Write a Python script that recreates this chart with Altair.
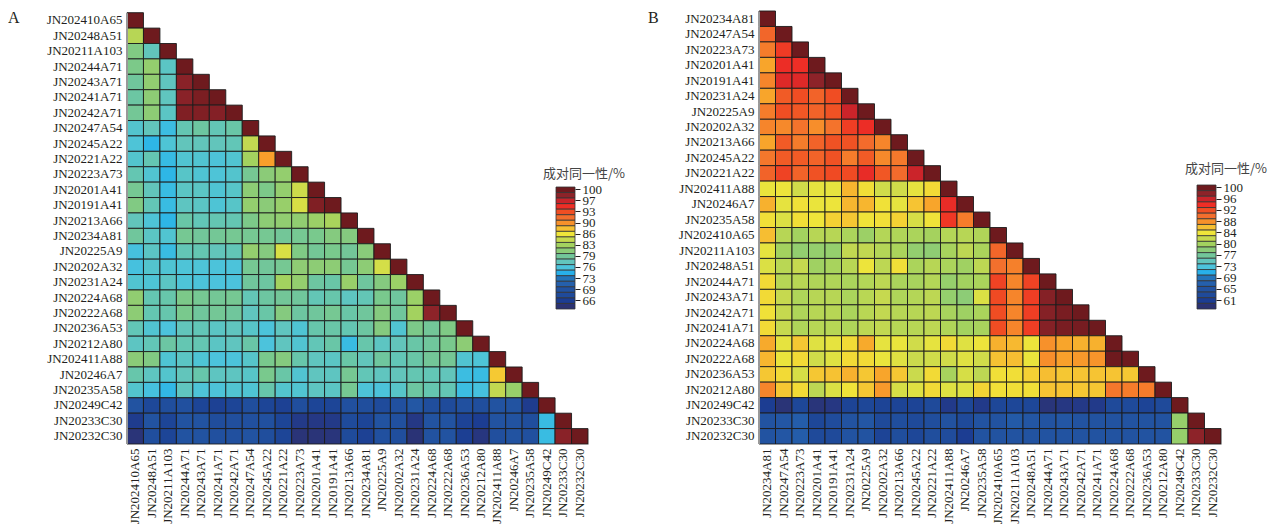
import altair as alt
import pandas as pd

rows_a = ["JN202410A65","JN20248A51","JN20211A103","JN20244A71","JN20243A71","JN20241A71","JN20242A71","JN20247A54","JN20245A22","JN20221A22","JN20223A73","JN20201A41","JN20191A41","JN20213A66","JN20234A81","JN20225A9","JN20202A32","JN20231A24","JN20224A68","JN20222A68","JN20236A53","JN20212A80","JN202411A88","JN20246A7","JN20235A58","JN20249C42","JN20233C30","JN20232C30"]
rows_b = ["JN20234A81","JN20247A54","JN20223A73","JN20201A41","JN20191A41","JN20231A24","JN20225A9","JN20202A32","JN20213A66","JN20245A22","JN20221A22","JN202411A88","JN20246A7","JN20235A58","JN202410A65","JN20211A103","JN20248A51","JN20244A71","JN20243A71","JN20242A71","JN20241A71","JN20224A68","JN20222A68","JN20236A53","JN20212A80","JN20249C42","JN20233C30","JN20232C30"]

mat_a = [
[100],
[84,100],
[80.8,78,100],
[80.5,82,77.5,100],
[79.5,81.8,77.8,98.5,100],
[79.2,81.5,77.8,98.5,99.3,100],
[79.8,81.5,77.5,99,99,98.8,100],
[77,78,75.6,78.5,79.3,78.3,79,100],
[76.5,75,76.6,78,78,78,78.2,84.5,100],
[77,78.5,75.4,76.8,76.8,76.4,76.8,83,89.3,100],
[78.5,76.8,75,77.3,76.7,76.5,77,80,81.3,82,100],
[80,78,75.5,77.5,77.5,76.7,77.3,81.5,80.5,82,85,100],
[80.8,78.3,75.5,77.7,77.5,76.6,77.3,82,81.3,82.3,85.5,99,100],
[78,76.5,75,79,78.2,78.5,78.5,80.5,81.5,81.8,81.8,82.5,83.3,100],
[79.5,77.5,76.8,80,79.6,79.8,80,80,80,79.7,80,80.3,81,81,100],
[76,77.5,75.5,78.3,78.5,78,78.2,82,81,85.5,80.7,79.8,80.3,79.7,81.2,100],
[76,77,76.7,76.5,76.5,76.3,76.3,80,79.6,80,81.6,81.5,81.5,80,81.5,85.3,100],
[76.8,76.6,77.5,76.5,76.3,76.2,76.2,79.5,79.3,83,82,79.3,79,82.3,79.4,81,82.5,100],
[81.8,78.5,78.8,80.5,80,79.8,80,78.3,79.3,79.7,79.5,78.3,78.8,77.7,78.3,80.3,79.4,82.5,100],
[81.5,78.5,78.7,80.3,79.5,79.8,79.5,77.8,79,81,79.3,79.5,80,79,79.5,81,79.5,83,98.3,100],
[78.2,76.8,76.2,78,78.2,77.5,77.8,77.3,76.3,77.8,76.7,78.8,79,78.5,79.3,81,76.8,80.5,79.7,80.7,100],
[77.6,78.2,79.2,78.5,78.5,77.5,77.8,79,76.2,77.8,76.8,78.2,79,75.5,78.8,77.6,78,79,79.5,80.3,81.5,100],
[81.3,80.8,76.7,77.5,76.6,76.2,76.3,77.2,80.3,81,78.8,77.8,77.5,79,78,79.4,78.2,79,79.7,79.9,76.8,76.5,100],
[78.8,77.7,77,78,78.8,77.7,77.7,77.3,80.3,79,76.8,77.8,77.7,80,78.2,77.8,78,78.5,78.3,78,75.6,75.5,87.7,100],
[77,76,75.2,77.8,76.5,76.4,76.8,76.7,78.8,77,76.8,77.7,77.5,80,76.4,76.3,77.3,79.3,78.6,78.4,75.6,76,84.5,82.3,100],
[69.5,67.5,68.5,69,67,66.5,67,68.5,67,66.5,68.5,67,67,69,68.5,68,69,70,68.5,68,69,68.5,69.5,69.5,65.8,100],
[65.8,69.5,67,69.5,69.5,68.3,68.8,69,69,67,65.5,65.3,65.5,68,67,69.5,69,65.3,69.5,69.5,66.8,66,69.5,69.5,68.5,75.5,100],
[64.6,68.5,67,69.5,69.5,69,69,69.5,68.5,67,64.6,64.6,64.8,68,66.5,69,68.5,64.5,69.3,69.5,66.3,65,68.8,69.5,69,75.5,98.5,100],
]

mat_b = [
[100],
[90.8,100],
[89.5,93.5,100],
[87.5,94.3,94.2,100],
[89,95,95,98,100],
[87.5,91.5,92.3,91,92.3,100],
[89.5,92.2,91.7,91,92,96,100],
[89,88.8,90,88.5,90,93.3,94.3,100],
[87.5,91.5,89.5,91,92,92,90.5,89,100],
[89.8,91.5,91.5,91,92,89.5,91.5,88.8,89.7,100],
[91,93,91,92,92.5,92.5,94.5,91.7,90.5,96,100],
[84.2,84.3,83,84,84,86.8,84.8,83,83,84,85,100],
[87,84,84.6,84.2,84.3,86.8,86.8,84.6,84,86.2,87.5,94.5,100],
[84.7,83.5,84.8,84.4,85.5,86,84.5,84.7,85.5,83.3,84.5,93.7,89.5,100],
[86.5,81.7,80.5,81.7,81.7,81,80,81.5,81.3,81,80.6,81.5,81.7,81.3,100],
[84,80.5,79.3,79.5,79.5,82.3,82.3,81.5,81,79.3,79,80.8,82,81,90.8,100],
[83.5,81.8,82.5,80.3,80.8,81.8,84.3,82,84.7,81,81.7,81,80.3,82,90.2,89.3,100],
[85,81.7,81.8,81.3,81.3,81,81.5,82,81,80.8,81.5,79.6,80.5,81,93,89,93,100],
[85,82.5,81.2,81.7,81.7,81,81.8,82.5,81.2,81.5,82,79.5,78.8,83.5,92.5,89,93.3,98.5,100],
[84.6,82.5,81.2,81.7,81.7,81,81.8,82.3,81.7,81.7,82,80.8,80.2,81,92.3,89,93.3,98.5,99.3,100],
[85,82.5,81.2,81.7,81.7,81.2,82,82.3,81.7,81.7,82,81.3,80.5,80.8,92.3,89,93.3,98.5,99.3,99.5,100],
[87.3,84,86,83.7,84,85,87.3,84,84.2,83,84,85,83.7,84.3,87,86.7,84.3,88.3,87.5,87,87,100],
[86.8,84.2,85,83,83.7,85,85,84.2,83.7,82.7,83,83,83.7,83,86.3,86.5,84.2,88.5,87.7,88,88.2,100,100],
[86,85,83.3,86,86.3,87,86,87.5,86,82.7,85,80.8,83.3,82,84.7,84.8,85.5,86.5,86,86.2,86.2,86.2,86,100],
[89,86,85,82,83.5,84.5,86,88,83.3,83.7,85,83.7,83.7,85.3,84.7,84.8,84.7,86.2,86.2,86,86,89.8,89.5,89.5,100],
[61,59.3,62.5,59.5,60,62,62.5,62,62,62,63,60.5,62.5,60.5,62.5,62.5,62.5,59.5,60,60.3,60.5,63,63,62,63,100],
[65,65.5,66.5,62.5,63.5,65,65.5,63,64,63,64,64.8,63,65,65,66,65.5,65,65.5,65,65,65,65,65,65,79.6,100],
[65,65.5,66.5,63,63,65,65,62,64,62.5,64,63.5,61,65,65,65,65,65,65,65,65,65,65,65,65,79.6,98,100],
]

legend_colors = ["#6e1a1e","#8d2329","#c9242a","#ee2e26","#f04e23","#f36e2d","#f7912b","#f6c033","#efe53a","#c6d94f","#a3d25f","#8bcb78","#72c69a","#62c5bd","#4cc3dc","#28b0ea","#2373b9","#2560ac","#2252a0","#1f4a9a","#1c3d92","#2b3272"]
legend_a_labels = ["100","98","97","95","93","92","90","88","86","85","83","81","79","78","76","75","73","71","69","68","66","64"]
legend_a_values = [100,98.3,96.6,94.9,93.2,91.5,89.8,88.1,86.4,84.7,83,81.3,79.6,77.9,76.2,74.5,72.8,71.1,69.4,67.7,66,64.3]
legend_b_labels = ["100","98","96","94","92","90","88","86","84","82","80","79","77","75","73","71","69","67","65","63","61","59"]
legend_b_values = [100,98,96.1,94.2,92.2,90.3,88.3,86.4,84.4,82.5,80.5,78.6,76.6,74.7,72.7,70.8,68.8,66.9,64.9,63,61,59]
legend_title = "成对同一性/%"

SERIF = "Liberation Serif"
INK = "#231f20"


def panel(letter, rows, mat, leg_labels, leg_values, width, top, leg_x, leg_y, letter_x, title_x, title_y):
    cells = pd.DataFrame(
        [{"row": rows[i], "col": rows[j], "v": mat[i][j]} for i in range(len(rows)) for j in range(i + 1)]
    )
    color = alt.Color(
        "v:Q",
        legend=None,
        scale=alt.Scale(domain=leg_values[::-1], range=legend_colors[::-1], clamp=True),
    )
    heat = alt.Chart(cells).mark_rect(stroke="#1c1c1c", strokeWidth=0.9).encode(
        x=alt.X(
            "col:N", sort=rows, title=None,
            scale=alt.Scale(domain=rows, paddingInner=0, paddingOuter=0),
            axis=alt.Axis(labelAngle=270, ticks=False, labelPadding=4, labelFont=SERIF, labelFontSize=13,
                          labelColor=INK, domainColor="#999999", labelLimit=200, labelOverlap=False),
        ),
        y=alt.Y(
            "row:N", sort=rows, title=None,
            scale=alt.Scale(domain=rows, range=[top, 433], paddingInner=0, paddingOuter=0),
            axis=alt.Axis(orient="left", ticks=False, labelPadding=5, labelFont=SERIF, labelFontSize=13,
                          labelColor=INK, domainColor="#999999", labelLimit=200, labelOverlap=False),
        ),
        color=color,
    )
    swatch = pd.DataFrame({"label": leg_labels, "v": leg_values})
    swatches = alt.Chart(swatch).mark_rect(stroke="#333333", strokeWidth=0.8).encode(
        x=alt.value(leg_x),
        x2=alt.value(leg_x + 19),
        y=alt.Y(
            "label:N", title=None, sort=leg_labels,
            scale=alt.Scale(domain=leg_labels, range=list(leg_y), paddingInner=0, paddingOuter=0),
            axis=alt.Axis(orient="right", offset=leg_x + 19 - width, values=leg_labels[::2], tickSize=5,
                          tickColor=INK, domain=False, labelPadding=2, labelFont=SERIF, labelFontSize=13,
                          labelColor=INK, labelOverlap=False, labelFlush=False),
        ),
        color=color,
    )
    ttl = alt.Chart(pd.DataFrame({"t": [legend_title]})).mark_text(
        font="Noto Sans CJK SC", fontSize=13, align="left", baseline="alphabetic", color="#444444"
    ).encode(x=alt.value(title_x), y=alt.value(title_y), text="t:N")
    let = alt.Chart(pd.DataFrame({"t": [letter]})).mark_text(
        font=SERIF, fontSize=16, align="left", baseline="alphabetic", color=INK
    ).encode(x=alt.value(letter_x), y=alt.value(12.3), text="t:N")
    return alt.layer(heat, swatches, ttl, let).resolve_scale(y="independent", x="shared", color="independent").properties(
        width=width, height=433
    )


a = panel("A", rows_a, mat_a, legend_a_labels, legend_a_values, 461, 1.7, 429, (176, 298), -119, 416, 167)
b = panel("B", rows_b, mat_b, legend_b_labels, legend_b_values, 462, 0, 438, (174, 298), -111, 426, 162)

chart = alt.hconcat(a, b, spacing=22, padding={"left": 0, "top": 2, "right": 0, "bottom": 0}).configure_view(stroke=None)

chart.save("out.html", embed_options={"renderer": "svg", "actions": False})
